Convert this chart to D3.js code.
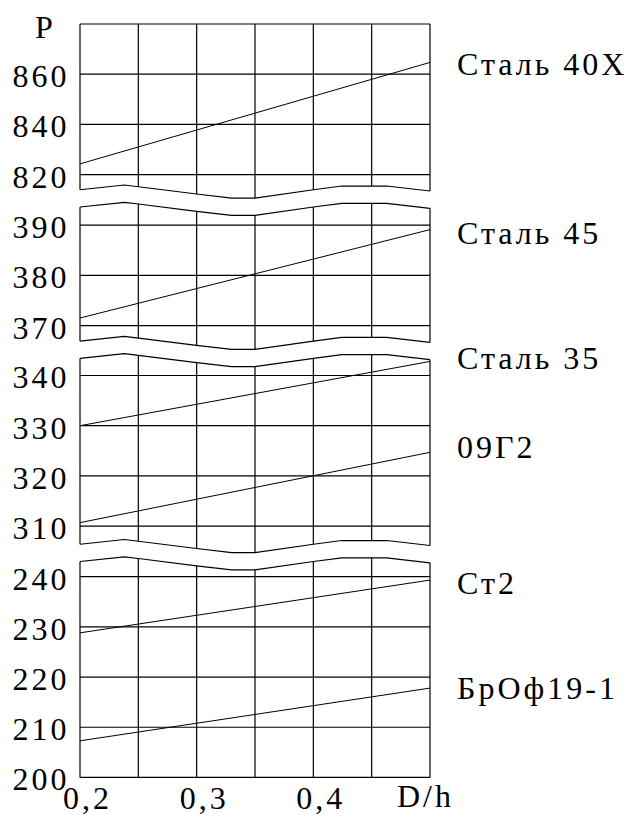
<!DOCTYPE html>
<html>
<head>
<meta charset="utf-8">
<script src="https://cdn.jsdelivr.net/npm/d3@7/dist/d3.min.js"></script>
<style>
  body { margin: 0; background: #fff; }
</style>
</head>
<body>
<div id="chart"></div>
<script>
// D/h where the lines were read (ends of the lines)
var xValues = [0.2, 0.5];
var xTicks = [0.2, 0.3, 0.4];

var names = ["Сталь 40Х", "Сталь 45", "Сталь 35", "09Г2", "Ст2", "БрОф19-1"];
var seriesPanel = [0, 1, 2, 2, 3, 3];
var values = [
  [824.3, 864.7],
  [371.5, 389.1],
  [330.0, 342.8],
  [310.7, 324.7],
  [228.8, 239.3],
  [207.3, 217.8]
];

// the P axis is cut into four pieces
var panelLo = [814, 366.9, 306.4, 200];
var panelHi = [880, 393.6, 343.4, 243];
var panelStep = [20, 10, 10, 10];
var panelTicks = [[820, 840, 860], [370, 380, 390], [310, 320, 330, 340], [200, 210, 220, 230, 240]];

var w = 634, h = 815;
var left = 80, right = 430, plotTop = 24;
var rowH = 50.22, gap = 17.3;
var labelNudge = [0.5, 2, -4, -6.5, 2, -1];

var svg = d3.select('#chart').append('svg')
    .attr('width', w)
    .attr('height', h);

// every text goes through here; the wide spacing is done with a dx list
var addText = function(str, x, y) {
  str = String(str);
  var dx = str.split('').map(function(c, i) { return i == 0 ? 0 : 3; }).join(' ');
  return svg.append('text')
    .style('font-family', "'Liberation Serif'")
    .style('font-size', '32px')
    .attr('fill', '#000')
    .attr('x', x)
    .attr('y', y)
    .attr('dx', dx)
    .text(str);
};

var xscale = d3.scaleLinear().domain([0.2, 0.5]).range([left, right]);

// wave used to show the break of the axis
var wave = d3.scaleLinear()
    .domain([0, 0.127, 0.167, 0.333, 0.433, 0.5, 0.667, 0.748, 0.876, 1])
    .range([0, -4.7, -3, 4.3, 8.3, 8.3, 0, -3.7, -3.7, 1.3]);
var waveAt = function(base, x) { return base + wave((x - left) / (right - left)); };

// build a y scale for every panel
var panels = [];
var y0 = plotTop;
panelLo.forEach(function(lo, i) {
  var ppu = rowH / panelStep[i];
  var ph = (panelHi[i] - lo) * ppu;
  panels.push({
    y: d3.scaleLinear().domain([lo, panelHi[i]]).range([y0 + ph, y0]),
    top: y0, bottom: y0 + ph,
    wavyTop: i > 0, wavyBottom: i < panelLo.length - 1
  });
  y0 += ph + gap;
});

var gridX = d3.range(0.2, 0.5001, 0.05);
var waveXs = wave.domain().map(function(t) { return left + t * (right - left); });
var line = d3.line().x(function(d) { return d[0]; }).y(function(d) { return d[1]; });

var g = svg.append('g')
    .attr('fill', 'none')
    .attr('stroke', '#000')
    .attr('stroke-width', 1.2);

panels.forEach(function(p, i) {
  var topAt = function(x) { return p.wavyTop ? waveAt(p.top, x) : p.top; };
  var botAt = function(x) { return p.wavyBottom ? waveAt(p.bottom, x) : p.bottom; };

  // vertical grid lines, ending at the waves
  g.selectAll('line.v' + i)
    .data(gridX)
    .enter()
    .append('line')
      .attr('class', 'v' + i)
      .attr('x1', function(d) { return xscale(d); })
      .attr('x2', function(d) { return xscale(d); })
      .attr('y1', function(d) { return topAt(xscale(d)); })
      .attr('y2', function(d) { return botAt(xscale(d)); });

  // horizontal grid lines
  var hs = panelTicks[i].slice();
  if (i == 0) hs.push(panelHi[0]);
  g.selectAll('line.h' + i)
    .data(hs)
    .enter()
    .append('line')
      .attr('class', 'h' + i)
      .attr('x1', left)
      .attr('x2', right)
      .attr('y1', function(d) { return p.y(d); })
      .attr('y2', function(d) { return p.y(d); });

  if (p.wavyTop)
    g.append('path').attr('d', line(waveXs.map(function(x) { return [x, topAt(x)]; })));
  if (p.wavyBottom)
    g.append('path').attr('d', line(waveXs.map(function(x) { return [x, botAt(x)]; })));

  // tick labels
  panelTicks[i].forEach(function(d) {
    addText(d, 12.5, p.y(d) + 13);
  });
});

// data lines
var sl = d3.line()
    .x(function(d, i) { return xscale(xValues[i]); });
values.forEach(function(vals, s) {
  var p = panels[seriesPanel[s]];
  g.append('path')
    .attr('stroke-width', 1)
    .attr('d', sl.y(function(d) { return p.y(d); })(vals));
  addText(names[s], 457, p.y(vals[vals.length - 1]) + 12 + labelNudge[s]);
});

// x axis labels
xTicks.forEach(function(d) {
  addText(String(d).replace('.', ','), xscale(d) - 17, 809);
});

addText('D/h', 397, 807);
addText('P', 35, 38);
</script>
</body>
</html>
